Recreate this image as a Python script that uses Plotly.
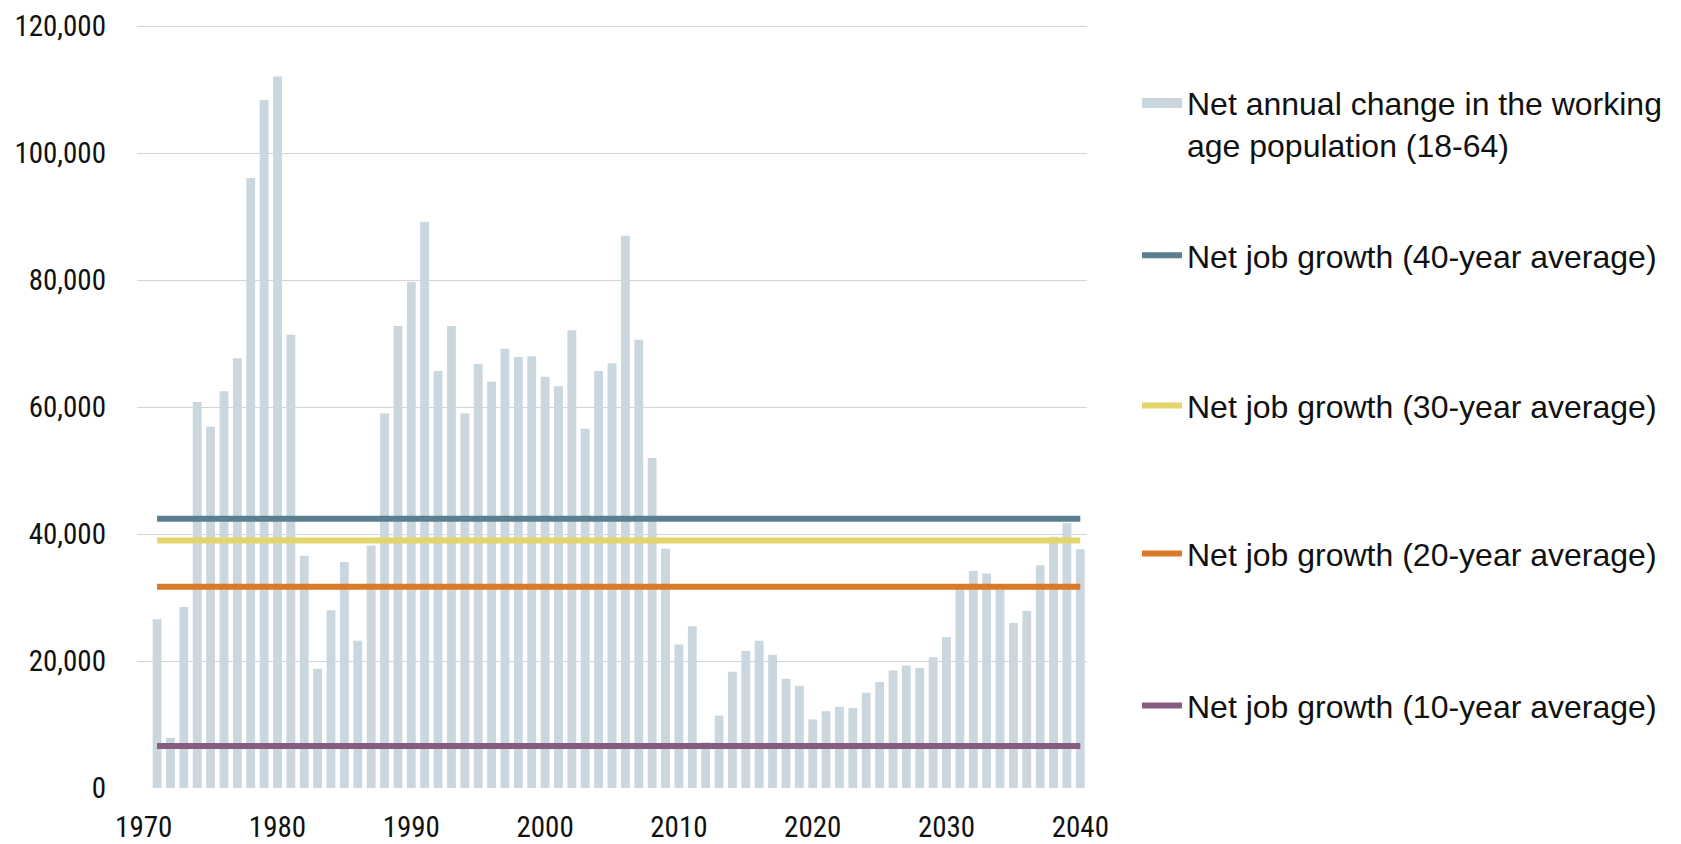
import plotly.graph_objects as go

years = list(range(1971, 2041))
working_age_change = [
    26600, 7900, 28500, 60800, 56900, 62500, 67700, 96100, 108400, 112100,
    71400, 36600, 18800, 28000, 35600, 23200, 38200, 59000, 72800, 79700,
    89200, 65700, 72800, 59000, 66800, 64000, 69200, 67900, 68000, 64800,
    63300, 72100, 56600, 65700, 66900, 87000, 70600, 52000, 37700, 22600,
    25500, 7200, 11400, 18300, 21600, 23200, 21000, 17200, 16100, 10800,
    12100, 12800, 12600, 15000, 16700, 18500, 19300, 18900, 20600, 23800,
    31800, 34200, 33800, 31300, 26000, 27900, 35100, 39600, 41700, 37600,
]

avg_labels = ["Net job growth (40-year average)",
              "Net job growth (30-year average)",
              "Net job growth (20-year average)",
              "Net job growth (10-year average)"]
avg_values = [42400, 39000, 31700, 6600]
avg_colors = ["#5b7f91", "#e4d46c", "#d97a29", "#875c82"]

bar_label = "Net annual change in the working<br>age population (18-64)"
bar_color = "#cad7de"

tick_font = "Liberation Sans Narrow, Arial Narrow, Roboto Condensed, Liberation Sans, Arial"
text_font = "Liberation Sans, Arial, sans-serif"

fig = go.Figure()

fig.add_trace(go.Bar(
    x=years, y=working_age_change,
    name=bar_label,
    marker=dict(color=bar_color, line=dict(width=0)),
    showlegend=False,
))

# legend entry for the bars: a thick flat swatch like the original
fig.add_trace(go.Scatter(
    x=[None], y=[None], mode="lines", name=bar_label,
    line=dict(color=bar_color, width=14),
    legend="legend",
))

# one legend per entry so the entries can be spaced like the original
legend_y = [0.698, 0.501, 0.307, 0.108]
for i, (label, val, col) in enumerate(zip(avg_labels, avg_values, avg_colors)):
    fig.add_trace(go.Scatter(
        x=[years[0], years[-1]], y=[val, val],
        mode="lines", name=label,
        line=dict(color=col, width=6),
        legend="legend%d" % (i + 2),
    ))

legend_common = dict(
    x=1.0526, xanchor="left", yanchor="middle",
    font=dict(family=text_font, size=32, color="#111111"),
    bgcolor="rgba(0,0,0,0)", itemwidth=40, valign="top",
)

layout_legends = {"legend": dict(legend_common, y=0.870)}
for i, ly in enumerate(legend_y):
    layout_legends["legend%d" % (i + 2)] = dict(legend_common, y=ly)

fig.update_layout(
    width=1681, height=844,
    margin=dict(l=137, r=594, t=25, b=56),
    paper_bgcolor="white", plot_bgcolor="white",
    bargap=0.34,
    showlegend=True,
    xaxis=dict(
        range=[1969.5, 2040.5],
        tickvals=list(range(1970, 2041, 10)),
        showgrid=False, zeroline=False, showline=False,
        tickfont=dict(family=tick_font, size=29, color="#111111"),
        ticklabelstandoff=19,
        automargin=False,
    ),
    yaxis=dict(
        range=[0, 120200],
        tickvals=list(range(0, 120001, 20000)),
        tickformat=",d",
        showgrid=True, gridcolor="#d3d3d3", gridwidth=1,
        zeroline=False, showline=False,
        tickfont=dict(family=tick_font, size=29, color="#111111"),
        ticklabelstandoff=30,
        automargin=False,
    ),
    **layout_legends,
)

# drop the default page margin so the figure fills the window exactly
fig.write_html("out.html", config={"displayModeBar": False},
               post_script="document.body.style.margin = '0';")
